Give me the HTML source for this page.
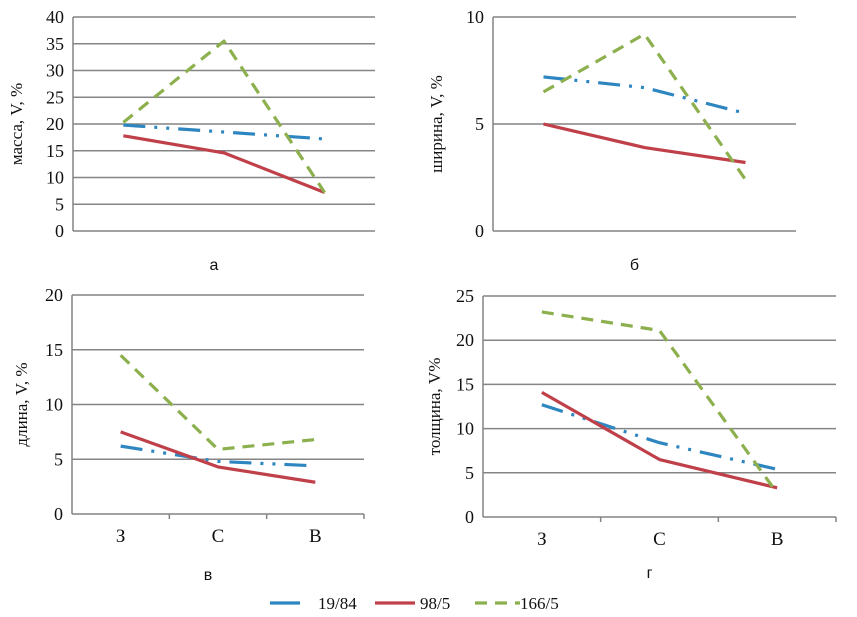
<!DOCTYPE html>
<html><head><meta charset="utf-8"><style>
body{margin:0;background:#fff;}
svg{display:block;}
text{font-family:"Liberation Serif","Noto Serif CJK SC",serif;fill:#111;}
.cap{font-family:"Liberation Sans","Noto Sans CJK SC",sans-serif;font-size:16px;}
</style></head><body>
<svg id="c" width="857" height="617" viewBox="0 0 857 617" xmlns="http://www.w3.org/2000/svg"></svg>
<script>
const categories = ["З","С","В"];
const seriesNames = ["19/84","98/5","166/5"];
const aBlue=[19.8,18.5,17.2], aRed=[17.8,14.6,7.2], aGreen=[20.3,35.5,7.2];
const bBlue=[7.2,6.7,5.5], bRed=[5.0,3.9,3.2], bGreen=[6.5,9.2,2.4];
const cBlue=[6.2,4.8,4.4], cRed=[7.5,4.3,2.9], cGreen=[14.5,5.9,6.8];
const dBlue=[12.7,8.4,5.4], dRed=[14.1,6.5,3.3], dGreen=[23.2,21.1,2.7];
const aTicks=[0,5,10,15,20,25,30,35,40], bTicks=[0,5,10], cTicks=[0,5,10,15,20], dTicks=[0,5,10,15,20,25];

const colors=["#2E86C1","#C0404A","#8DB04E"];
const dashes=["22,9,3,9,3,9","", "12,8"];
const svg=document.getElementById('c');
const NS="http://www.w3.org/2000/svg";
function mk(tag,attrs,parent){const e=document.createElementNS(NS,tag);for(const k in attrs)e.setAttribute(k,attrs[k]);(parent||svg).appendChild(e);return e;}

const panels=[
 {id:'a',L:73,R:375,T:17,B:231,max:40,ticks:aTicks,ylabel:'масса, V, %',yl:22,cap:'а',capY:270,data:[aBlue,aRed,aGreen],xlab:false},
 {id:'b',L:493,R:796,T:17,B:231,max:10,ticks:bTicks,ylabel:'ширина, V, %',yl:442,cap:'б',capY:270,data:[bBlue,bRed,bGreen],xlab:false},
 {id:'c',L:72,R:364,T:295,B:514,max:20,ticks:cTicks,ylabel:'длина, V, %',yl:27,cap:'в',capY:580,data:[cBlue,cRed,cGreen],xlab:true},
 {id:'d',L:483,R:836,T:296,B:517,max:25,ticks:dTicks,ylabel:'толщина, V%',yl:440,cap:'г',capY:578,data:[dBlue,dRed,dGreen],xlab:true}
];
panels.forEach(p=>{
 const g=mk('g',{});
 
 
 const y=v=>p.B-(v/p.max)*(p.B-p.T);
 const step=(p.R-p.L)/categories.length;
 const x=i=>p.L+step*(i+0.5);
 p.ticks.forEach(t=>{
  const ln=mk('line',{x1:p.L,x2:p.R,y1:y(t),y2:y(t),stroke:'#848484','stroke-width':1.5},g);
  
  
  const tx=mk('text',{x:p.L-9,y:y(t)+6,'text-anchor':'end','font-size':18},g);
  tx.textContent=t;
  
  
 });
 const ax=mk('line',{x1:p.L,x2:p.L,y1:p.T,y2:p.B,stroke:'#848484','stroke-width':1.5},g);
 
 
 if(p.xlab){
  for(let i=1;i<=categories.length;i++){
   const tk=mk('line',{x1:p.L+step*i,x2:p.L+step*i,y1:p.B,y2:p.B+5,stroke:'#848484','stroke-width':1.5},g);
   
   
  }
  categories.forEach((c,i)=>{
   const tx=mk('text',{x:x(i),y:p.B+28,'text-anchor':'middle','font-size':19},g);
   tx.textContent=c;
   
   
  });
 }
 const yl=mk('text',{x:0,y:0,'text-anchor':'middle','font-size':17,transform:`translate(${p.yl},${(p.T+p.B)/2}) rotate(-90)`},g);
 yl.textContent=p.ylabel;
 
 
 const cp=mk('text',{x:(p.L+p.R)/2-10,y:p.capY,'text-anchor':'middle',class:'cap'},g);
 cp.textContent=p.cap;
 
 
 p.data.forEach((s,si)=>{
  const pts=s.map((v,i)=>x(i)+','+y(v)).join(' ');
  const pl=mk('polyline',{points:pts,fill:'none',stroke:colors[si],'stroke-width':3.2,'stroke-dasharray':dashes[si]||'none','stroke-linejoin':'round'},g);
  
  
 });
});
const lg=mk('g',{});


const lx=[270,375,475], tx=[318,420,520], lw=[30,40,45];
seriesNames.forEach((n,i)=>{
 const e=mk('g',{},lg);
 
 
 mk('line',{x1:lx[i],x2:lx[i]+lw[i],y1:603,y2:603,stroke:colors[i],'stroke-width':3.2,'stroke-dasharray':i==2?'12,8':'none'},e);
 const t=mk('text',{x:tx[i],y:609,'font-size':17},e);
 t.textContent=n;
});
</script>
</body></html>
